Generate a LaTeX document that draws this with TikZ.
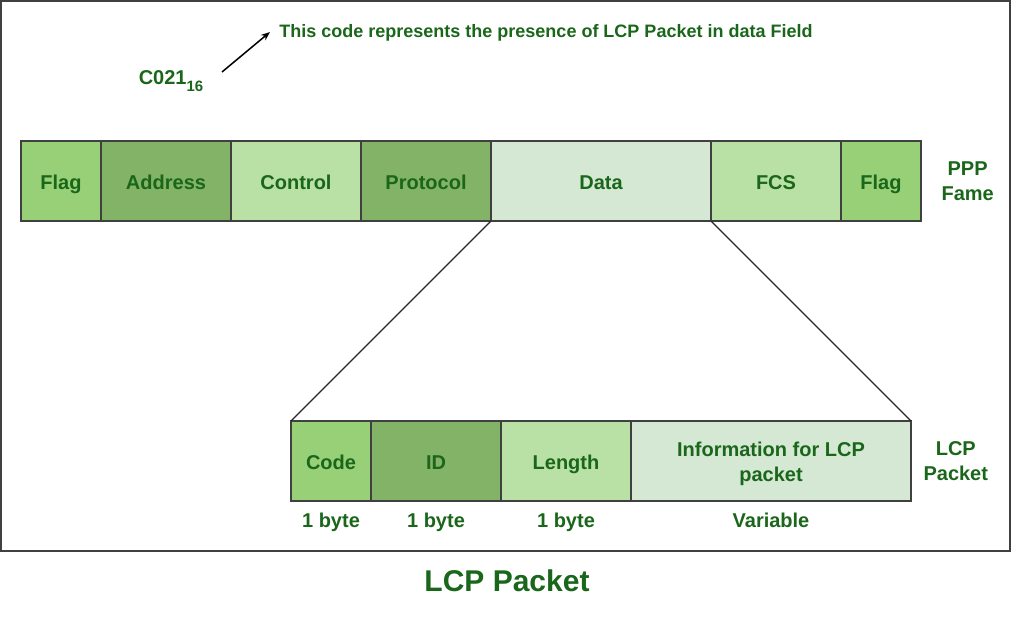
\documentclass[tikz,border=0pt]{standalone}
\usepackage{fontspec}
\setmainfont{Liberation Sans}
\usepackage{tikz}
\usetikzlibrary{arrows.meta, positioning}
\definecolor{txtgreen}{RGB}{26,102,26}
\definecolor{flagG}{HTML}{97D077}
\definecolor{darkG}{HTML}{82B366}
\definecolor{midG}{HTML}{B9E0A5}
\definecolor{paleG}{HTML}{D5E8D4}

\begin{document}
\begin{tikzpicture}[
    x=1pt, y=-1pt,
    field/.style={draw=black!75, line width=1.2pt, minimum height=80pt,
                  inner sep=0pt, outer sep=0pt, align=center,
                  font=\fontsize{20}{25}\selectfont\bfseries, text=txtgreen},
    onefield/.style={field, text height=18pt, text depth=2pt},
    tag/.style={align=center, font=\fontsize{20}{25}\selectfont\bfseries, text=txtgreen},
    arrow/.style={-{Stealth[length=9pt, width=7pt]}, line width=1.5pt},
    zoomline/.style={line width=1.3pt, black!85},
    node distance=0pt
]
\useasboundingbox (0,0) rectangle (1012,616);
\draw[line width=2pt, black!75] (1,1) rectangle (1010,551);

% PPP frame
\node[onefield, fill=flagG, minimum width=80pt, anchor=north west] (flagA) at (21,141) {Flag};
\node[onefield, fill=darkG, minimum width=130pt, right=of flagA] (addr) {Address};
\node[onefield, fill=midG, minimum width=130pt, right=of addr] (ctrl) {Control};
\node[onefield, fill=darkG, minimum width=130pt, right=of ctrl] (proto) {Protocol};
\node[onefield, fill=paleG, minimum width=220pt, right=of proto] (data) {Data};
\node[onefield, fill=midG, minimum width=130pt, right=of data] (fcs) {FCS};
\node[onefield, fill=flagG, minimum width=80pt, right=of fcs] (flagB) {Flag};
\node[tag, right=17pt of flagB] (ppp) {PPP\\Fame};

% LCP packet
\node[onefield, fill=flagG, minimum width=80pt, anchor=north west] (code) at (291,421) {Code};
\node[onefield, fill=darkG, minimum width=130pt, right=of code] (ident) {ID};
\node[onefield, fill=midG, minimum width=130pt, right=of ident] (len) {Length};
\node[field, fill=paleG, minimum width=280pt, text height=45pt, text depth=4pt,
      right=of len] (info) {Information for LCP\\packet};
\node[tag, right=9pt of info] (lcp) {LCP\\Packet};

\node[tag, below=8pt of code] (szA) {1 byte};
\node[tag, below=8pt of ident] (szB) {1 byte};
\node[tag, below=8pt of len] (szC) {1 byte};
\node[tag, below=8pt of info] (szD) {Variable};

\draw[zoomline] (data.south west) -- (code.north west);
\draw[zoomline] (data.south east) -- (info.north east);

% protocol code note
\node[tag, font=\fontsize{20}{24}\selectfont\bfseries] (hex) at (171,81)
    {C021\raisebox{-7pt}{\fontsize{15}{18}\selectfont 16}};
\node[tag, font=\fontsize{18}{22}\selectfont\bfseries] (note) at (546,33)
    {This code represents the presence of LCP Packet in data Field};
\coordinate (tail) at (222,72);
\coordinate (head) at (270,32);
\draw[arrow] (tail) -- (head);

\node[tag, font=\fontsize{30}{36}\selectfont\bfseries] (title) at (507,581) {LCP Packet};
\end{tikzpicture}
\end{document}
